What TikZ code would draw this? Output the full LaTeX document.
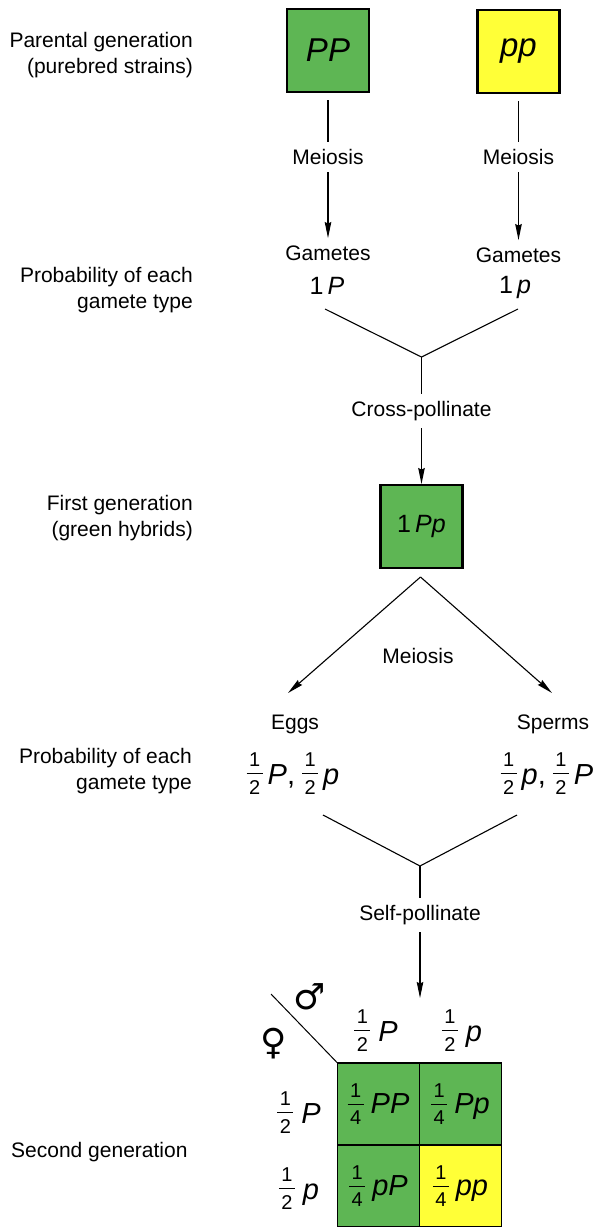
\documentclass[tikz,border=0pt]{standalone}
\usepackage{fontspec}
\setmainfont{Liberation Sans}
\newfontfamily\symf{DejaVu Sans}
\usetikzlibrary{arrows.meta}
\definecolor{grn}{RGB}{94,182,84}
\definecolor{ylw}{RGB}{255,255,55}
\newcommand{\fr}[2]{\raisebox{-10.8pt}{\vbox{\fontsize{20}{20}\selectfont\offinterlineskip\halign{\hfil##\hfil\cr #1\cr\noalign{\kern6.5pt}\rule{16pt}{0.9pt}\cr\noalign{\kern6.5pt}#2\cr}}}}
\begin{document}
\begin{tikzpicture}[x=1pt,y=-1pt,
  ln/.style={line width=1.1pt},
  arr/.style={ln, -{Stealth[length=16pt,width=6.5pt,inset=1.5pt]}},
  box/.style={draw=black, line width=2.2pt, minimum width=82pt, minimum height=83pt, inner sep=0pt, outer sep=8pt, font=\fontsize{33}{33}\selectfont\itshape},
  lab/.style={inner sep=0pt, outer sep=7.5pt, font=\fontsize{21}{24}\selectfont},
  side/.style={inner sep=0pt, anchor=east, align=right, font=\fontsize{21}{26}\selectfont},
  gam/.style={inner sep=0pt, font=\fontsize{25}{28}\selectfont},
  frc/.style={inner sep=0pt, font=\fontsize{29}{30}\selectfont},
  cell/.style={draw=black, line width=1.8pt, minimum width=82pt, minimum height=82pt, inner sep=0pt, outer sep=0pt, font=\fontsize{29}{30}\selectfont},
  sym/.style={inner sep=0pt, font=\symf\fontsize{36}{36}\selectfont}
]
\useasboundingbox (0,0) rectangle (610,1227);

% left-hand labels
\node[side] (l1) at (193,55) {Parental generation\\(purebred strains)};
\node[side] (l2) at (193,290) {Probability of each\\gamete type};
\node[side] (l3) at (193,518.5) {First generation\\(green hybrids)};
\node[side] (l4) at (192,771) {Probability of each\\gamete type};
\node[inner sep=0pt, anchor=west, font=\fontsize{21}{26}\selectfont] (l5) at (11,1152) {Second generation};

% parental boxes
\node[box, fill=grn] (PP) at (328,50.5) {PP};
\node[box, fill=ylw] (pp) at (518.5,51.5) {pp};

\node[lab] (m1) at (328,157) {Meiosis};
\node[lab] (m2) at (518.5,157) {Meiosis};
\node[lab] (g1) at (328,253) {Gametes};
\node[lab] (g2) at (518.5,255) {Gametes};
\node[gam] (gp1) at (327,285.5) {1\,\textit{P}};
\node[gam] (gp2) at (515,287.5) {1\,\textit{p}};

\draw[ln] (PP) -- (m1);
\draw[arr] (m1) -- (g1);
\draw[ln] (pp) -- (m2);
\draw[arr] (m2) -- (g2);

% cross-pollination
\coordinate (a1) at (325,309);
\coordinate (a2) at (518,309);
\coordinate (j1) at (421.5,357);
\draw[ln] (a1) -- (j1) -- (a2);
\node[lab] (cp) at (421.5,411) {Cross-pollinate};
\draw[ln] (j1) -- (cp);

\node[box, fill=grn, font=\fontsize{25}{28}\selectfont] (Pp) at (421.5,526.5) {1\,\textit{Pp}};
\draw[arr, shorten >=-7pt] (cp) -- (Pp);

% meiosis of hybrids
\coordinate (t) at (420.5,577);
\coordinate (e1) at (288,693);
\coordinate (e2) at (552,693);
\draw[arr] (t) -- (e1);
\draw[arr] (t) -- (e2);
\node[lab] (m3) at (418,655.5) {Meiosis};
\node[lab] (eggs) at (295,724) {Eggs};
\node[lab] (sperms) at (553,724) {Sperms};
\node[frc] (ef) at (293,774) {\fr{1}{2}\hspace{5pt}\textit{P},\hspace{7pt}\fr{1}{2}\hspace{5pt}\textit{p}};
\node[frc] (sf) at (547,774) {\fr{1}{2}\hspace{5pt}\textit{p},\hspace{7pt}\fr{1}{2}\hspace{5pt}\textit{P}};

% self-pollination
\coordinate (b1) at (323,815);
\coordinate (b2) at (517,815);
\coordinate (j2) at (420,866);
\draw[ln] (b1) -- (j2) -- (b2);
\node[lab] (sp) at (420,915) {Self-pollinate};
\draw[ln] (j2) -- (sp);
\coordinate (sq) at (420,998);
\draw[arr] (sp) -- (sq);

% Punnett square
\node[cell, fill=grn] (c11) at (378.5,1104) {\fr{1}{4}\hspace{7pt}\textit{PP}};
\node[cell, fill=grn] (c12) at (460.5,1104) {\fr{1}{4}\hspace{7pt}\textit{Pp}};
\node[cell, fill=grn] (c21) at (378.5,1186) {\fr{1}{4}\hspace{7pt}\textit{pP}};
\node[cell, fill=ylw] (c22) at (460.5,1186) {\fr{1}{4}\hspace{7pt}\textit{pp}};

\node[frc] (h1) at (376,1031) {\fr{1}{2}\hspace{8pt}\textit{P}};
\node[frc] (h2) at (462,1031) {\fr{1}{2}\hspace{8pt}\textit{p}};
\node[frc] (r1) at (299,1113) {\fr{1}{2}\hspace{8pt}\textit{P}};
\node[frc] (r2) at (299,1189) {\fr{1}{2}\hspace{8pt}\textit{p}};

\coordinate (dg) at (271,994);
\draw[line width=1pt] (dg) -- (c11.north west);
\node[sym] (male) at (310,997) {♂};
\node[sym] (female) at (274,1044) {♀};
\end{tikzpicture}
\end{document}
